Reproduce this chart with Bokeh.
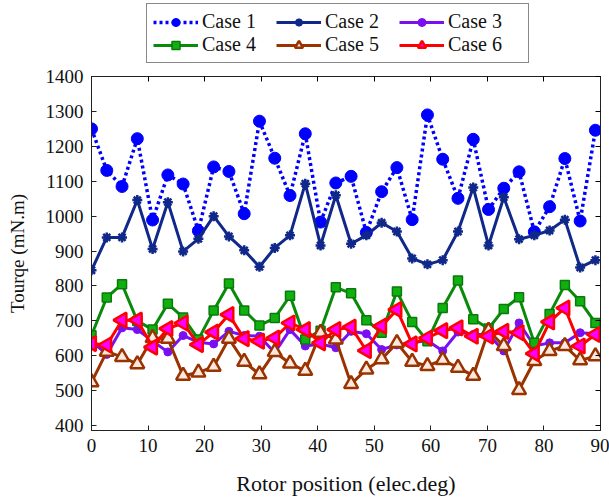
from bokeh.plotting import figure
from bokeh.models import Legend, LegendItem, LinearAxis, FixedTicker, Range1d
from bokeh.layouts import column
from bokeh.embed import file_html
from bokeh.resources import INLINE
import math

# ---- data ----
rotor_pos = [0, 2.7, 5.4, 8.1, 10.8, 13.5, 16.2, 18.9, 21.6, 24.3, 27, 29.7, 32.4, 35.1,
             37.8, 40.5, 43.2, 45.9, 48.6, 51.3, 54, 56.7, 59.4, 62.1, 64.8, 67.5, 70.2,
             72.9, 75.6, 78.3, 81, 83.7, 86.4, 89.1]
case1 = [1250, 1131, 1085, 1222, 989, 1118, 1092, 958, 1141, 1128, 1007, 1272, 1166, 1059,
         1236, 983, 1095, 1114, 953, 1070, 1139, 990, 1290, 1163, 1051, 1220, 1019, 1080,
         1127, 955, 1027, 1165, 986, 1246]
case2 = [845, 939, 939, 1046, 906, 1040, 899, 935, 1000, 942, 902, 855, 909, 945, 1093, 916,
         1060, 921, 945, 981, 956, 879, 862, 874, 956, 1082, 916, 1054, 934, 945, 959, 990,
         853, 874]
case3 = [642, 604, 680, 675, 642, 611, 658, 639, 634, 670, 658, 656, 609, 675, 628, 634, 623,
         670, 663, 618, 631, 637, 644, 614, 668, 661, 661, 614, 694, 628, 637, 637, 666, 663]
case4 = [659, 767, 805, 700, 675, 749, 710, 647, 730, 807, 730, 687, 708, 772, 647, 672, 796,
         779, 702, 666, 784, 697, 642, 737, 816, 705, 678, 734, 768, 637, 720, 803, 756, 694]
case5 = [524, 612, 597, 576, 651, 649, 543, 552, 569, 649, 583, 547, 611, 578, 557, 666, 647,
         519, 561, 590, 637, 583, 571, 588, 566, 543, 672, 628, 502, 585, 614, 628, 587, 599]
case6 = [635, 631, 702, 702, 625, 678, 694, 632, 668, 718, 649, 642, 651, 694, 675, 637, 675,
         682, 615, 685, 732, 634, 651, 672, 680, 656, 656, 670, 666, 606, 697, 737, 628, 661]
labels = ["Case 1", "Case 2", "Case 3", "Case 4", "Case 5", "Case 6"]
x_ticks = [0, 10, 20, 30, 40, 50, 60, 70, 80, 90]
y_ticks = [400, 500, 600, 700, 800, 900, 1000, 1100, 1200, 1300, 1400]

FONT = "Liberation Serif"

# series styles: (line kwargs, marker kwargs)
styles = [
    (dict(line_color="#0000ff", line_width=3.5, line_dash="3 3"),
     dict(marker="circle", size=12, fill_color="#0000ff", line_color="#0000ff")),
    (dict(line_color="#10288a", line_width=3),
     dict(marker="asterisk", size=10, line_color="#10288a", line_width=2.5)),
    (dict(line_color="#7a10f0", line_width=3),
     dict(marker="circle", size=8, fill_color="#7a10f0", line_color="#7a10f0")),
    (dict(line_color="#0a8a0a", line_width=3),
     dict(marker="square", size=9, fill_color="#10b010", line_color="#0a7a0a", line_width=1.5)),
    (dict(line_color="#9a3300", line_width=3),
     dict(marker="triangle", size=14, fill_color="#fbe9e0", line_color="#9a3300", line_width=2.5)),
    (dict(line_color="#ff0000", line_width=3),
     dict(marker="triangle", angle=math.pi / 2, size=15, fill_color="#ff00ff",
          line_color="#ff0000", line_width=2.5)),
]
series = [case1, case2, case3, case4, case5, case6]

# ---- main plot ----
p = figure(width=609, height=434, output_backend="svg", toolbar_location=None,
           x_range=Range1d(0, 90), y_range=Range1d(386, 1400),
           min_border_left=91, min_border_right=9, min_border_top=12, min_border_bottom=64)
p.grid.visible = False
p.outline_line_color = "#222222"
p.outline_line_width = 1

for ax in (p.xaxis[0], p.yaxis[0]):
    ax.major_tick_in = 5
    ax.major_tick_out = 0
    ax.minor_tick_line_color = None
    ax.axis_line_color = "#222222"
    ax.major_tick_line_color = "#222222"
    ax.major_label_text_font = FONT
    ax.major_label_text_font_size = "19px"
    ax.major_label_text_color = "#111111"
    ax.axis_label_text_font = FONT
    ax.axis_label_text_font_style = "normal"
    ax.axis_label_text_color = "#111111"

p.xaxis[0].ticker = FixedTicker(ticks=x_ticks)
p.yaxis[0].ticker = FixedTicker(ticks=y_ticks)
p.xaxis[0].axis_label = "Rotor position (elec.deg)"
p.yaxis[0].axis_label = "Tourqe (mN.m)"
p.xaxis[0].axis_label_text_font_size = "22px"
p.yaxis[0].axis_label_text_font_size = "19px"
p.xaxis[0].major_label_standoff = 8
p.xaxis[0].major_label_text_line_height = 1.0
p.xaxis[0].axis_label_text_line_height = 0.9
p.yaxis[0].major_label_standoff = 8
p.xaxis[0].axis_label_standoff = 16
p.yaxis[0].axis_label_standoff = 15

ra = LinearAxis(ticker=FixedTicker(ticks=y_ticks), major_label_text_font_size="0px",
                major_tick_in=5, major_tick_out=0, minor_tick_line_color=None,
                major_label_standoff=0, axis_line_color="#222222")
p.add_layout(ra, "right")
ta = LinearAxis(ticker=FixedTicker(ticks=x_ticks), major_label_text_font_size="0px",
                major_tick_in=5, major_tick_out=0, minor_tick_line_color=None,
                major_label_standoff=0, axis_line_color="#222222")
p.add_layout(ta, "above")

for vals, (lk, mk) in zip(series, styles):
    p.line(rotor_pos, vals, **lk)
    p.scatter(rotor_pos, vals, **mk)

# ---- legend strip (separate figure above the plot; its data lies outside its view) ----
lf = figure(width=609, height=64, output_backend="svg", toolbar_location=None,
            x_range=Range1d(-1000, -999), y_range=Range1d(-1000, -999),
            x_axis_type=None, y_axis_type=None,
            min_border_left=0, min_border_right=0, min_border_top=0, min_border_bottom=0)
lf.grid.visible = False
lf.outline_line_color = None

items = []
for lab, vals, (lk, mk) in zip(labels, series, styles):
    lr = lf.line(rotor_pos, vals, **lk)
    mr = lf.scatter(rotor_pos, vals, **mk)
    items.append(LegendItem(label=lab, renderers=[lr, mr]))

legend = Legend(items=items, orientation="horizontal", ncols=3,
                location=(55, 1), margin=0, padding=6, spacing=0,
                glyph_width=45, glyph_height=20, label_standoff=4, label_height=20,
                label_width=74,
                label_text_font=FONT, label_text_font_size="20px", label_text_color="#111111",
                border_line_color="#111111", border_line_width=1.2,
                background_fill_color="white", background_fill_alpha=1.0)
lf.add_layout(legend)

layout = column(lf, p, spacing=0)
open("out.html", "w").write(file_html(layout, INLINE))
